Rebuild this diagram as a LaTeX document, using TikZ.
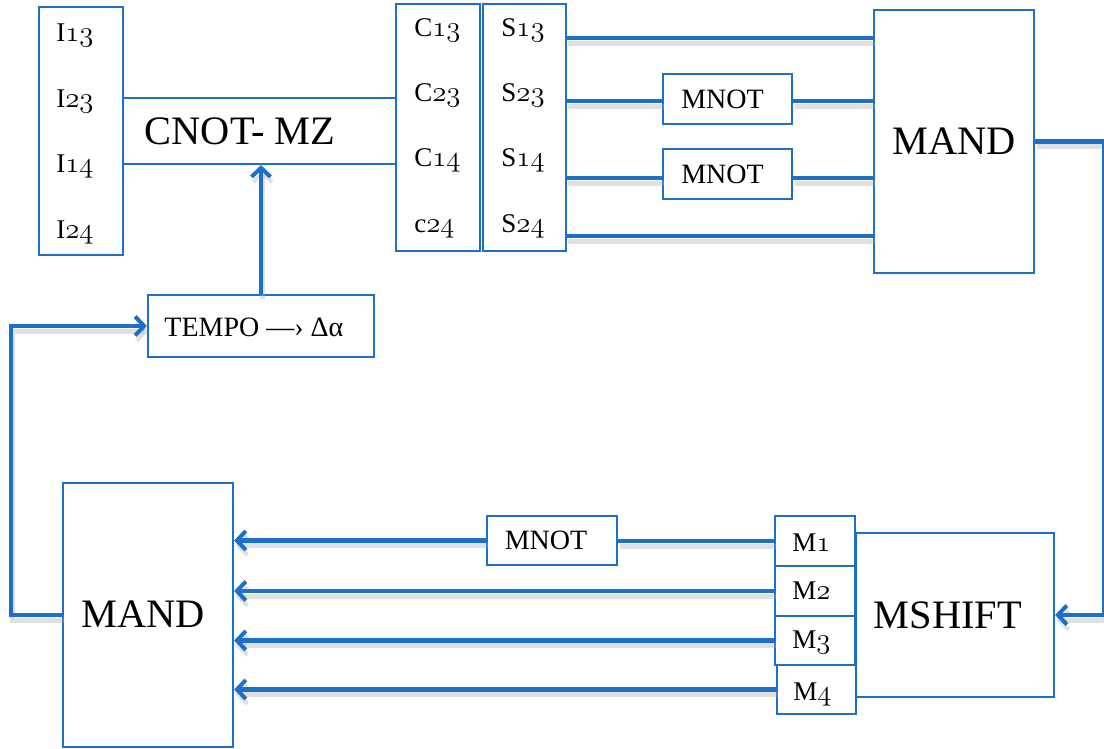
\documentclass[tikz,border=0pt]{standalone}
\usepackage{fontspec}
\newfontfamily\tms{Liberation Serif}
\usetikzlibrary{arrows.meta}
\definecolor{myblue}{RGB}{28,112,200}
\newcommand\osn[1]{{\usefont{OML}{cmm}{m}{it}#1}}
\newcommand\bx[6][]{\node[box,#1,minimum width={(#5-#3)*0.5pt},minimum height={(#6-#4)*0.5pt}] (#2) at ({(#3+#5)/2},{(#4+#6)/2}) {};}
\tikzset{
  box/.style={draw=myblue, line width=1.1pt, inner sep=0pt, fill=white},
  shad/.style={preaction={draw=black!35, opacity=.35, line width=2.6pt, transform canvas={shift={(0.8pt,-2.6pt)}}}},
  wire/.style={draw=myblue, line width=2.2pt, shad},
  arr/.style={wire, -{Straight Barb[length=4.5pt,width=9.5pt,line width=2pt]}},
  lbl/.style={anchor=base west, inner sep=0pt, font=\tms\fontsize{13.5}{15}\selectfont},
  big/.style={font=\tms\fontsize{20.2}{24}\selectfont, inner sep=0pt},
  mid/.style={font=\tms\fontsize{14}{16}\selectfont, inner sep=0pt}
}
\begin{document}
\begin{tikzpicture}[x=0.5pt,y=-0.5pt]
\useasboundingbox (0,0) rectangle (1104,749);
% top row boxes
\bx{ibox}{39}{7}{123}{255}
\bx{cnot}{123}{98}{396}{164}
\bx{cbox}{396}{4}{480}{251}
\bx{sbox}{483}{4}{566}{251}
\node[big] at (240,131) {CNOT- MZ};
\node[lbl] (i13) at (56,42) {I\osn{13}};
\node[lbl] (i23) at (56,108) {I\osn{23}};
\node[lbl] (i14) at (56,173) {I\osn{14}};
\node[lbl] (i24) at (56,238) {I\osn{24}};
\node[lbl] (c13) at (414,37) {C\osn{13}};
\node[lbl] (c23) at (414,102) {C\osn{23}};
\node[lbl] (c14) at (414,167) {C\osn{14}};
\node[lbl] (c24) at (414,233) {c\osn{24}};
\node[lbl] (s13) at (501,37) {S\osn{13}};
\node[lbl] (s23) at (501,102) {S\osn{23}};
\node[lbl] (s14) at (501,167) {S\osn{14}};
\node[lbl] (s24) at (501,233) {S\osn{24}};
% MNOT top
\bx{mnota}{663}{74}{792}{124}
\node[mid] at ([xshift=-2.5pt]mnota.center) {MNOT};
\bx{mnotb}{663}{149}{792}{199}
\node[mid] at ([xshift=-2.5pt]mnotb.center) {MNOT};
% MAND top
\bx{mandt}{874}{10}{1034}{273}
\node[big] at (954,141) {MAND};
% TEMPO
\bx{tempo}{148}{295}{374}{357}
\node[mid, anchor=west] at (164,327) {TEMPO —› Δα};
% bottom
\bx{mandb}{63}{483}{233}{747}
\node[big] at (143,614) {MAND};
\bx{mshift}{856}{533}{1054}{697}
\node[big] at (948,615) {MSHIFT};
\bx{m1}{775}{516}{855}{566}
\bx{m2}{775}{566}{855}{616}
\bx{m3}{775}{616}{855}{665}
\bx{m4}{777}{665}{856}{714}
\node[lbl] at (792,551) {M\osn{1}};
\node[lbl] at (792,599) {M\osn{2}};
\node[lbl] at (792,648) {M\osn{3}};
\node[lbl] at (793,700) {M\osn{4}};
\bx{mnotc}{487}{516}{617}{565}
\node[mid] at ([xshift=-3pt]mnotc.center) {MNOT};
% coordinates at S outputs
\coordinate (o1) at (566,38);
\coordinate (o2) at (566,101);
\coordinate (o3) at (566,178);
\coordinate (o4) at (566,236);
\draw[wire] (o1) -- (o1 -| mandt.west);
\draw[wire] (o2) -- (o2 -| mnota.west);
\draw[wire] (o2 -| mnota.east) -- (o2 -| mandt.west);
\draw[wire] (o3) -- (o3 -| mnotb.west);
\draw[wire] (o3 -| mnotb.east) -- (o3 -| mandt.west);
\draw[wire] (o4) -- (o4 -| mandt.west);
% MAND -> MSHIFT
\draw[arr] (mandt.east) -- ++(69,0) |- (mshift.east);
% M -> MAND
\draw[wire] (m1.west) -- (m1.west -| mnotc.east);
\draw[arr] (mnotc.west) -- (mnotc.west -| mandb.east);
\draw[arr] (m2.west) -- (m2.west -| mandb.east);
\draw[arr] (m3.west) -- (m3.west -| mandb.east);
\draw[arr] (m4.west) -- (m4.west -| mandb.east);
% feedback
\draw[arr] (mandb.west) -- ++(-51,0) |- (tempo.west);
\draw[arr] (tempo.north) -- (tempo.north |- cnot.south);
\end{tikzpicture}
\end{document}
